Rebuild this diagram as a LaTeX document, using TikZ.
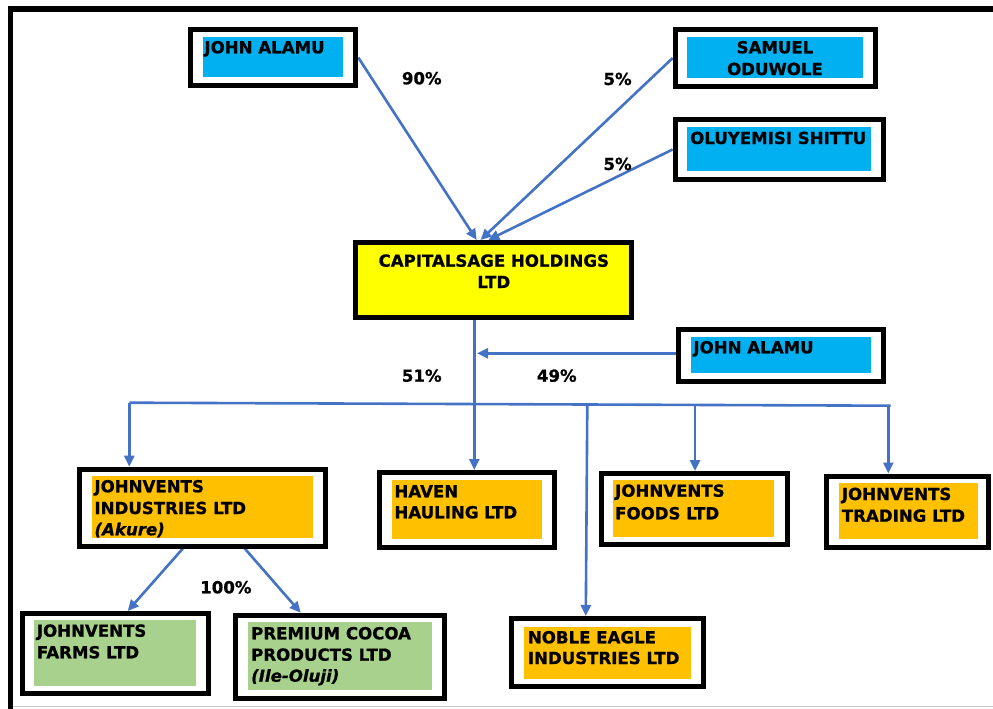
\documentclass[tikz,border=0pt]{standalone}
\usepackage{fontspec}
\setmainfont{DejaVu Sans}[BoldFeatures={FakeBold=0.9},BoldItalicFeatures={FakeBold=0.9}]
\usetikzlibrary{arrows.meta,calc}
\definecolor{cblue}{HTML}{00B0F0}
\definecolor{cyellow}{HTML}{FFFF00}
\definecolor{corange}{HTML}{FFC000}
\definecolor{cgreen}{HTML}{A9D18E}
\definecolor{linkblue}{HTML}{4472C4}
\definecolor{framegray}{HTML}{C8C8C8}
\pgfdeclarelayer{bg}
\pgfsetlayers{bg,main}
\begin{document}
\begin{tikzpicture}[x=1pt,y=-1pt,
  obox/.style={draw=black,line width=5pt,fill=white,inner sep=0pt,rectangle},
  txt/.style={font=\bfseries\fontsize{16.6}{19}\selectfont,inner sep=0pt,anchor=base west},
  itxt/.style={txt,font=\bfseries\itshape\fontsize{16.6}{19}\selectfont},
  ctxt/.style={txt,anchor=base},
  link/.style={draw=linkblue,line width=2.6pt},
  arr/.style={link,-{Triangle[length=11pt,width=10pt]}}]
\useasboundingbox (0,0) rectangle (993,709);

% frame
\draw[line width=5.5pt] (10.5,709) -- (10.5,8.8) -- (993,8.8);
\draw[framegray,line width=1.5pt] (13,706.5) -- (993,706.5);

% boxes
\node[obox,minimum width=165.5pt,minimum height=56.5pt] (ja1) at (273,57.5) {};
\fill[cblue] (203,36.7) rectangle (343.3,77.3);
\node[txt] (ja1t) at (204.3,53.3) {JOHN ALAMU};

\node[obox,minimum width=200pt,minimum height=57.5pt] (sam) at (775.2,58) {};
\fill[cblue] (687.3,36.7) rectangle (862.7,78.3);
\node[ctxt] (samt1) at (775,53.3) {SAMUEL};
\node[ctxt] (samt2) at (775,75) {ODUWOLE};

\node[obox,minimum width=208.5pt,minimum height=59.5pt] (oly) at (779.3,149.5) {};
\fill[cblue] (687.3,126.7) rectangle (871,170.7);
\node[txt] (olyt) at (690,144) {OLUYEMISI SHITTU};

\node[obox,fill=cyellow,minimum width=276.5pt,minimum height=75pt] (cap) at (493.3,280) {};
\node[ctxt] (capt1) at (493.8,266.7) {CAPITALSAGE HOLDINGS};
\node[ctxt] (capt2) at (493.8,288) {LTD};

\node[obox,minimum width=205pt,minimum height=51.5pt] (ja2) at (781,355.7) {};
\fill[cblue] (690.7,336.7) rectangle (871.3,373.3);
\node[txt] (ja2t) at (693.3,353.3) {JOHN ALAMU};

\node[obox,minimum width=246pt,minimum height=77.5pt] (ind) at (202.2,508) {};
\fill[corange] (91.7,476) rectangle (312.7,538.3);
\node[txt] (indt1) at (94.3,492.3) {JOHNVENTS};
\node[txt] (indt2) at (94.3,514) {INDUSTRIES LTD};
\node[itxt] (indt3) at (94.3,535.3) {(Akure)};

\node[obox,minimum width=175pt,minimum height=75pt] (hav) at (466.7,510) {};
\fill[corange] (391.7,480) rectangle (542.3,539.3);
\node[txt] (havt1) at (394.3,497.3) {HAVEN};
\node[txt] (havt2) at (394.3,518.3) {HAULING LTD};

\node[obox,minimum width=186pt,minimum height=71.5pt] (foo) at (694.5,509.2) {};
\fill[corange] (612.7,480) rectangle (774,536.7);
\node[txt] (foot1) at (615,496.7) {JOHNVENTS};
\node[txt] (foot2) at (615,519.3) {FOODS LTD};

\node[obox,minimum width=161.5pt,minimum height=71pt] (tra) at (907.7,511.5) {};
\fill[corange] (839.3,483.3) rectangle (978.3,538.7);
\node[txt] (trat1) at (841.7,500) {JOHNVENTS};
\node[txt] (trat2) at (841.7,521.7) {TRADING LTD};

\node[obox,minimum width=185.5pt,minimum height=80pt] (far) at (115.3,653.5) {};
\fill[cgreen] (34.3,620) rectangle (195.7,686);
\node[txt] (fart1) at (36.7,636.7) {JOHNVENTS};
\node[txt] (fart2) at (36.7,658.3) {FARMS LTD};

\node[obox,minimum width=208.5pt,minimum height=83pt] (pre) at (340,656.7) {};
\fill[cgreen] (248.3,622.3) rectangle (432.3,690);
\node[txt] (pret1) at (251,639.3) {PREMIUM COCOA};
\node[txt] (pret2) at (251,660.7) {PRODUCTS LTD};
\node[itxt] (pret3) at (251,681.7) {(Ile-Oluji)};

\node[obox,minimum width=191.5pt,minimum height=68.5pt] (nob) at (607.7,652.3) {};
\fill[corange] (524.3,626.7) rectangle (691,679);
\node[txt] (nobt1) at (527.7,643.3) {NOBLE EAGLE};
\node[txt] (nobt2) at (527.7,664) {INDUSTRIES LTD};

% percentage labels
\node[txt] (p90) at (401.7,84.3) {90\%};
\node[txt] (p5a) at (603.3,85) {5\%};
\node[txt] (p5b) at (603.3,170) {5\%};
\node[txt] (p51) at (401.7,381.7) {51\%};
\node[txt] (p49) at (536.7,381.7) {49\%};
\node[txt] (p100) at (200,593.3) {100\%};

% connector end points
\coordinate (c1) at (476.7,240);
\coordinate (c2) at (480.5,240);
\coordinate (c3) at (488.3,240);
\coordinate (capb) at (474.3,320);
\coordinate (havtop) at (474.3,470);
\coordinate (ja2s) at (678,353.3);
\coordinate (vjoin) at (477,353.3);
\coordinate (busl) at (129.3,402.7);
\coordinate (busr) at (890.7,405.7);
\coordinate (indtop) at (129.3,466.7);
\coordinate (bfoo) at (695,404.9);
\coordinate (footop) at (695,471);
\coordinate (btra) at (888.3,405.7);
\coordinate (tratop) at (888.3,473.5);
\coordinate (bnob) at (587.3,404.5);
\coordinate (nobtop) at (585.8,616);
\coordinate (inds1) at (183.3,548);
\coordinate (inds2) at (244.3,548);
\coordinate (fartop) at (127.7,611);
\coordinate (pretop) at (300.7,612.7);

\begin{pgfonlayer}{bg}
\draw[arr] (ja1.east) -- (c1);
\draw[arr] (sam.west) -- (c2);
\draw[arr] (oly.west) -- (c3);
\draw[arr] (capb) -- (havtop);
\draw[arr] (ja2s) -- (vjoin);
\draw[link] (busl) -- (busr);
\draw[arr] (busl) -- (indtop);
\draw[arr] (bfoo) -- (footop);
\draw[arr] (btra) -- (tratop);
\draw[arr] (bnob) -- (nobtop);
\draw[arr] (inds1) -- (fartop);
\draw[arr] (inds2) -- (pretop);
\end{pgfonlayer}
\end{tikzpicture}
\end{document}
